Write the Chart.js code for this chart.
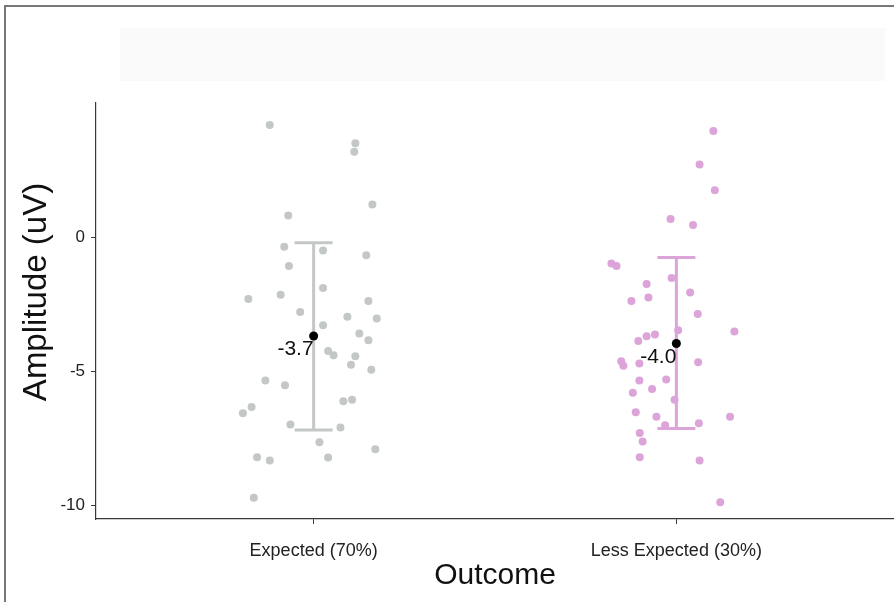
<!DOCTYPE html>
<html>
<head>
<meta charset="utf-8">
<script src="https://cdn.jsdelivr.net/npm/chart.js@4.4.1/dist/chart.umd.min.js"></script>
<style>
    html, body { margin: 0; padding: 0; background: #fff; }
    #wrap { width: 894px; height: 602px; }
</style>
</head>
<body>
<div id="wrap"><canvas id="chartCanvas" width="894" height="602"></canvas></div>
<script>
// categories and their x positions on the linear axis
const categories = ["Expected (70%)", "Less Expected (30%)"];
const categoryPos = [1, 2];

// individual observations (x jitter in category units, y in uV)
const expectedJitter = [-0.121, 0.115, 0.112, 0.162, -0.070, -0.081, 0.026, 0.145, -0.068, 0.026,
    -0.180, -0.091, 0.151, -0.037, 0.093, 0.174, 0.026, 0.126, 0.151, 0.040,
    0.055, 0.115, 0.103, 0.159, -0.133, -0.079, 0.082, 0.106, -0.171, -0.195,
    -0.064, 0.074, 0.016, 0.170, -0.156, -0.121, 0.040, -0.165];
const expectedValues = [4.18, 3.5, 3.18, 1.22, 0.81, -0.36, -0.50, -0.67, -1.07, -1.89,
    -2.30, -2.14, -2.38, -2.79, -2.96, -3.03, -3.28, -3.59, -3.84, -4.24,
    -4.40, -4.44, -4.75, -4.94, -5.34, -5.52, -6.11, -6.06, -6.33, -6.56,
    -6.98, -7.09, -7.64, -7.90, -8.20, -8.32, -8.21, -9.71];

const lessJitter = [0.102, 0.064, 0.106, -0.016, 0.046, -0.179, -0.165, -0.013, -0.082, 0.038,
    -0.077, -0.124, 0.059, 0.160, 0.005, -0.059, -0.082, -0.105, -0.152, -0.146,
    -0.102, 0.060, -0.102, -0.028, -0.067, -0.120, -0.005, -0.112, -0.055, 0.148,
    -0.031, 0.062, -0.101, -0.093, -0.101, 0.064, 0.121];
const lessValues = [3.96, 2.71, 1.75, 0.68, 0.45, -0.98, -1.07, -1.52, -1.74, -2.06,
    -2.25, -2.38, -2.86, -3.51, -3.47, -3.63, -3.69, -3.87, -4.62, -4.79,
    -4.71, -4.66, -5.34, -5.30, -5.66, -5.80, -6.06, -6.52, -6.69, -6.69,
    -7.01, -6.93, -7.30, -7.61, -8.20, -8.32, -9.88];

// group summaries
const means = [-3.68, -3.96];
const errLow = [-7.18, -7.13];
const errHigh = [-0.21, -0.76];

const yTicks = [0, -5, -10];
const yTitle = "Amplitude (uV)";
const groupColors = ["#c3c7c7", "#dca4d9"];

const FONT = "'Liberation Sans', Arial, sans-serif";

function toPoints(center, jitter, values) {
    return values.map((v, i) => ({ x: center + jitter[i], y: v }));
}

const errorBarPlugin = {
    id: "errorBars",
    beforeDatasetsDraw(chart) {
        const ctx = chart.ctx;
        const xs = chart.scales.x;
        const ys = chart.scales.y;
        ctx.save();
        ctx.lineWidth = 3;
        categoryPos.forEach((c, i) => {
            const px = xs.getPixelForValue(c);
            const top = ys.getPixelForValue(errHigh[i]);
            const bot = ys.getPixelForValue(errLow[i]);
            ctx.strokeStyle = groupColors[i];
            ctx.beginPath();
            ctx.moveTo(px, top);
            ctx.lineTo(px, bot);
            ctx.moveTo(px - 19, top);
            ctx.lineTo(px + 19, top);
            ctx.moveTo(px - 19, bot);
            ctx.lineTo(px + 19, bot);
            ctx.stroke();
        });
        ctx.restore();
    },
    afterDatasetsDraw(chart) {
        const ctx = chart.ctx;
        const xs = chart.scales.x;
        const ys = chart.scales.y;
        ctx.save();
        ctx.fillStyle = "#111";
        ctx.font = "21px " + FONT;
        ctx.textAlign = "right";
        ctx.textBaseline = "top";
        categoryPos.forEach((c, i) => {
            const px = xs.getPixelForValue(c);
            const py = ys.getPixelForValue(means[i]);
            ctx.fillText(means[i].toFixed(1), px, py + 3);
        });
        ctx.restore();
    }
};

const framePlugin = {
    id: "frame",
    beforeDraw(chart) {
        const ctx = chart.ctx;
        ctx.save();
        // faint block where the title was blanked out
        ctx.fillStyle = "#fafafa";
        ctx.fillRect(120, 28, 765, 53);
        ctx.strokeStyle = "#777";
        ctx.lineWidth = 2;
        ctx.beginPath();
        ctx.moveTo(5, 602);
        ctx.lineTo(5, 6);
        ctx.lineTo(894, 6);
        ctx.stroke();
        ctx.restore();
    },
    afterDraw(chart) {
        // y axis title, sitting a little above the plot centre as in the original
        const ctx = chart.ctx;
        ctx.save();
        ctx.translate(37, 292);
        ctx.rotate(-Math.PI / 2);
        ctx.fillStyle = "#111";
        ctx.font = "33px " + FONT;
        ctx.textAlign = "center";
        ctx.textBaseline = "middle";
        ctx.fillText(yTitle, 0, 0);
        ctx.restore();
    }
};

const ctx = document.getElementById("chartCanvas").getContext("2d");

new Chart(ctx, {
    type: "scatter",
    data: {
        datasets: [
            {
                label: "Means",
                data: categoryPos.map((c, i) => ({ x: c, y: means[i] })),
                backgroundColor: "#000",
                borderWidth: 0,
                pointRadius: 4.5
            },
            {
                label: categories[0],
                data: toPoints(categoryPos[0], expectedJitter, expectedValues),
                backgroundColor: groupColors[0],
                borderWidth: 0,
                pointRadius: 4
            },
            {
                label: categories[1],
                data: toPoints(categoryPos[1], lessJitter, lessValues),
                backgroundColor: groupColors[1],
                borderWidth: 0,
                pointRadius: 4
            }
        ]
    },
    options: {
        responsive: false,
        animation: false,
        layout: { autoPadding: false, padding: { left: 1, top: 103, right: 0, bottom: 0 } },
        plugins: {
            legend: { display: false },
            tooltip: { enabled: false }
        },
        scales: {
            x: {
                type: "linear",
                min: 0.4,
                max: 2.6,
                afterBuildTicks: scale => { scale.ticks = categoryPos.map(v => ({ value: v })); },
                afterFit: scale => {
                    scale.height = 83;
                    scale.paddingLeft = 0;
                    scale.paddingRight = 0;
                },
                ticks: {
                    callback: v => categories[categoryPos.indexOf(v)],
                    color: "#222",
                    font: { family: FONT, size: 18 },
                    padding: 16
                },
                grid: { drawOnChartArea: false, drawTicks: true, tickLength: 5, color: "#3a3a3a" },
                border: { color: "#3a3a3a", width: 1.2 },
                title: {
                    display: true,
                    text: "Outcome",
                    color: "#111",
                    font: { family: FONT, size: 30 },
                    padding: { top: 0, bottom: 8 }
                }
            },
            y: {
                min: -10.5,
                max: 5,
                afterBuildTicks: scale => { scale.ticks = yTicks.map(v => ({ value: v })); },
                afterFit: scale => {
                    scale.width = 95;
                    scale.paddingTop = 0;
                    scale.paddingBottom = 0;
                },
                ticks: {
                    color: "#222",
                    font: { family: FONT, size: 17 },
                    padding: 6
                },
                grid: { drawOnChartArea: false, drawTicks: true, tickLength: 5, color: "#3a3a3a" },
                border: { color: "#3a3a3a", width: 1.2 }
            }
        }
    },
    plugins: [framePlugin, errorBarPlugin]
});
</script>
</body>
</html>
